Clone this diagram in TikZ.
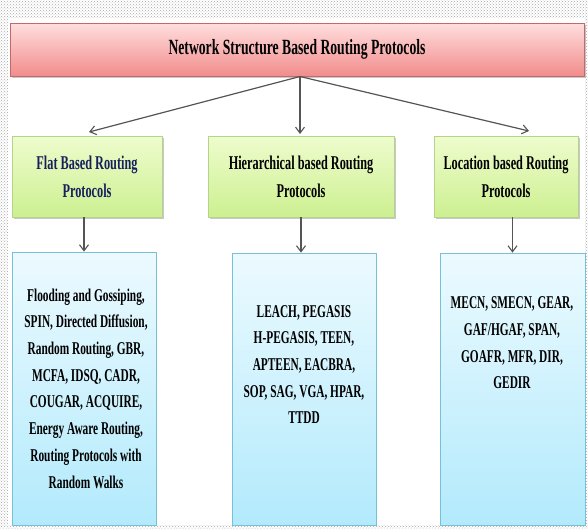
\documentclass[tikz,border=0pt]{standalone}
\usepackage{fontspec}
\setmainfont{Liberation Serif}[FakeStretch=0.63]
\usetikzlibrary{arrows.meta,shadows,patterns}
\definecolor{pinktop}{RGB}{255,222,222}
\definecolor{pinkbot}{RGB}{242,140,140}
\definecolor{pinkline}{RGB}{195,105,105}
\definecolor{greentop}{RGB}{238,252,205}
\definecolor{greenbot}{RGB}{205,240,145}
\definecolor{greenline}{RGB}{180,212,140}
\definecolor{bluetop}{RGB}{236,250,255}
\definecolor{bluebot}{RGB}{178,234,252}
\definecolor{blueline}{RGB}{120,192,214}
\definecolor{navytext}{RGB}{22,32,92}
\definecolor{arrowgray}{RGB}{85,85,85}
\tikzset{
  boxshadow/.style={drop shadow={shadow xshift=1.5pt,shadow yshift=-2pt,opacity=0.35,fill=black!60}},
  titlebox/.style={draw=pinkline,line width=1pt,top color=pinktop,bottom color=pinkbot,boxshadow,inner sep=0pt},
  headbox/.style={draw=greenline,line width=0.8pt,top color=greentop,bottom color=greenbot,boxshadow,inner sep=0pt,align=center,font=\fontsize{19.5}{28}\selectfont\bfseries},
  listbox/.style={draw=blueline,line width=0.8pt,top color=bluetop,bottom color=bluebot,inner sep=0pt},
  listtext/.style={align=center,inner sep=0pt,font=\fontsize{18}{26.7}\selectfont\bfseries},
  conn/.style={draw=arrowgray,line width=1.2pt,-{Straight Barb[length=6pt,width=9pt,line width=1.1pt]}}
}
\begin{document}
\begin{tikzpicture}[x=1pt,y=-1pt]
\useasboundingbox (0,0) rectangle (588,528);
\fill[pattern=crosshatch dots,pattern color=gray!70] (0,0) rectangle (588,528);
\fill[white] (8,18) rectangle (585,525);
% title
\node[titlebox,minimum width=574pt,minimum height=53pt,font=\fontsize{21.7}{26}\selectfont\bfseries] (top) at (297,49.5) {Network Structure Based Routing Protocols};
% headings
\node[headbox,minimum width=150pt,minimum height=81pt,text=navytext] (flg) at (87,176.5) {Flat Based Routing\\Protocols};
\node[headbox,minimum width=186pt,minimum height=81pt] (hig) at (301,176.5) {Hierarchical based Routing\\Protocols};
\node[headbox,minimum width=144pt,minimum height=81pt] (log) at (506,176.5) {Location based Routing\\Protocols};
% lists
\node[listbox,minimum width=144pt,minimum height=273pt] (flb) at (84,388.5) {};
\node[listbox,minimum width=144pt,minimum height=272pt] (hib) at (304,389) {};
\node[listbox,minimum width=145pt,minimum height=272pt] (lob) at (512.5,389) {};
\node[listtext] (flt) at (86,388.5) {Flooding and Gossiping,\\SPIN, Directed Diffusion,\\Random Routing, GBR,\\MCFA, IDSQ, CADR,\\COUGAR, ACQUIRE,\\Energy Aware Routing,\\Routing Protocols with\\Random Walks};
\node[listtext] (hit) at (304,364.5) {LEACH, PEGASIS\\H-PEGASIS, TEEN,\\APTEEN, EACBRA,\\SOP, SAG, VGA, HPAR,\\TTDD};
\node[listtext] (lot) at (512,343) {MECN, SMECN, GEAR,\\GAF/HGAF, SPAN,\\GOAFR, MFR, DIR,\\GEDIR};
% connectors
\coordinate (apex) at (300,76.5);
\coordinate (fltip) at (89,132);
\coordinate (hitip) at (300,134);
\coordinate (lotip) at (529,131);
\draw[conn] (apex) -- (fltip);
\draw[conn] (apex) -- (hitip);
\draw[conn] (apex) -- (lotip);
\draw[conn] (flb.north |- flg.south) -- (flb.north);
\draw[conn] (hig.south) -- (hig.south |- hib.north);
\draw[conn] (lob.north |- log.south) -- (lob.north);
\end{tikzpicture}
\end{document}
